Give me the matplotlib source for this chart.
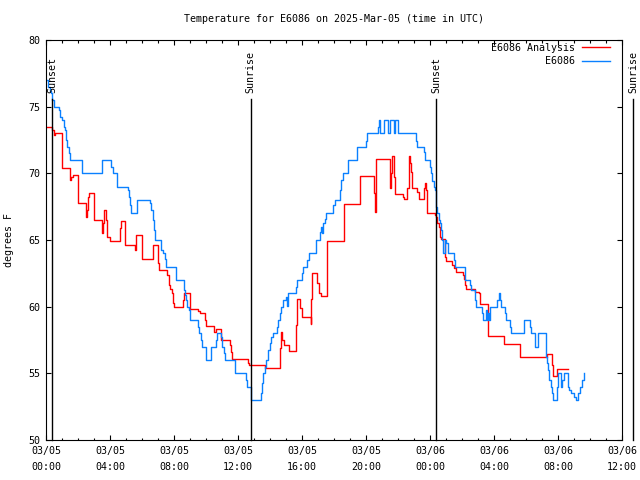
import matplotlib
matplotlib.use("Agg")
import matplotlib.pyplot as plt
from matplotlib.ticker import MultipleLocator

plt.rcParams['font.family'] = ['DejaVu Sans Mono']

# ---- data (hours since 2025-03-05 00:00 UTC, degrees F) ----
obs_hours = [0.0, 0.11, 0.23, 0.31, 0.39, 0.48, 0.81, 0.9, 1.0, 1.11, 1.17, 1.28, 1.31, 1.44, 1.53,
             2.25, 3.53, 4.09, 4.19, 4.44, 5.13, 5.19, 5.28, 5.34, 5.69, 6.53, 6.59, 6.69, 6.75, 6.84,
             7.21, 7.31, 7.42, 7.53, 8.11, 8.15, 8.63, 8.67, 8.78, 8.84, 8.94, 8.98, 9.5, 9.56, 9.71,
             9.78, 9.98, 10.03, 10.29, 10.61, 10.69, 10.96, 11.03, 11.11, 11.21, 11.84, 12.53, 12.56,
             12.79, 12.84, 13.42, 13.5, 13.56, 13.71, 13.78, 13.88, 13.98, 14.09, 14.19, 14.46, 14.5,
             14.61, 14.67, 14.81, 15.03, 15.09, 15.13, 15.61, 15.71, 16.0, 16.06, 16.34, 16.42, 16.86,
             17.11, 17.21, 17.28, 17.31, 17.42, 17.48, 17.95, 18.09, 18.36, 18.46, 18.56, 18.88, 19.46,
             20.03, 20.06, 20.75, 20.81, 20.88, 21.13, 21.38, 21.5, 21.75, 21.81, 22.0, 23.11, 23.19,
             23.63, 23.67, 23.98, 24.09, 24.15, 24.25, 24.29, 24.39, 24.4, 24.44, 24.56, 24.65, 24.71,
             24.78, 24.81, 24.96, 25.03, 25.13, 25.48, 25.54, 26.17, 26.21, 26.48, 26.59, 26.79, 26.84,
             26.9, 27.25, 27.31, 27.48, 27.56, 27.64, 27.7, 27.78, 28.21, 28.31, 28.38, 28.42, 28.67,
             28.78, 28.98, 29.04, 29.88, 30.23, 30.29, 30.54, 30.59, 30.75, 31.23, 31.28, 31.31, 31.38,
             31.42, 31.54, 31.65, 31.69, 31.94, 32.0, 32.19, 32.25, 32.36, 32.63, 32.69, 32.82, 32.98,
             33.15, 33.27, 33.39, 33.51, 33.63]
obs_temps = [77.0, 76.5, 76.2, 76.0, 75.5, 75.0, 74.75, 74.25, 74.0, 73.5, 73.25, 72.5, 72.0, 71.5, 71.0,
             70.0, 71.0, 70.5, 70.0, 69.0, 68.75, 68.25, 67.6, 67.0, 68.0, 67.75, 67.25, 66.5, 65.75, 65.0,
             64.25, 64.0, 63.6, 63.0, 62.5, 62.0, 61.25, 60.9, 60.5, 60.0, 59.75, 59.0, 58.5, 58.0, 57.5,
             57.0, 56.5, 56.0, 57.0, 57.5, 58.0, 57.75, 57.0, 56.5, 56.0, 55.0, 54.5, 54.0,
             53.5, 53.0, 53.5, 54.25, 55.0, 55.5, 56.0, 56.75, 57.25, 57.75, 58.0, 58.5, 59.0,
             59.5, 60.0, 60.5, 60.75, 60.05, 61.0, 61.5, 62.0, 62.5, 63.0, 63.5, 64.0, 65.0,
             65.6, 66.0, 65.5, 66.25, 66.6, 67.0, 67.6, 68.0, 68.75, 69.5, 70.0, 71.0, 72.0,
             72.4, 73.0, 73.5, 74.0, 73.0, 74.0, 73.0, 74.0, 73.0, 74.0, 73.0, 72.4, 72.0,
             71.6, 71.0, 70.5, 70.0, 69.4, 69.0, 68.75, 68.25, 67.5, 67.0, 66.5, 66.25, 65.75,
             65.0, 64.0, 65.0, 64.75, 64.0, 63.5, 63.0, 62.5, 62.0, 61.6, 61.25, 61.0, 60.5,
             60.0, 59.5, 59.0, 59.75, 59.0, 59.5, 59.0, 60.0, 60.5, 61.0, 60.5, 60.0, 59.5,
             59.0, 58.5, 58.0, 59.0, 58.5, 58.0, 57.5, 57.0, 58.0, 57.0, 56.25, 55.75, 55.25,
             54.5, 54.0, 53.5, 53.0, 54.0, 55.0, 54.0, 54.5, 55.0, 54.0, 53.75, 53.5, 53.25,
             53.0, 53.5, 54.0, 54.5, 55.0]

ana_hours = [0.0, 0.38, 0.48, 0.59, 1.0, 1.5, 1.56, 1.69, 1.98, 2.5, 2.56, 2.63, 2.7, 2.98, 3.5, 3.56,
             3.61, 3.75, 3.81, 4.03, 4.65, 4.71, 4.96, 5.54, 5.65, 6.0, 6.69, 7.0, 7.06, 7.59, 7.69,
             7.78, 7.88, 7.94, 8.0, 8.56, 8.63, 8.98, 9.48, 9.61, 9.96, 10.03, 10.5, 10.61, 10.96,
             11.48, 11.59, 11.65, 12.63, 12.69, 13.67, 14.65, 14.67, 14.75, 14.88, 15.17, 15.65,
             15.71, 15.86, 16.0, 16.54, 16.59, 16.65, 16.96, 17.04, 17.17, 17.56, 17.59, 18.61,
             18.63, 19.61, 19.65, 20.5, 20.54, 20.6, 21.48, 21.52, 21.57, 21.62, 21.75, 21.79,
             22.31, 22.36, 22.59, 22.67, 22.73, 22.8, 22.86, 23.21, 23.29, 23.63, 23.67, 23.77,
             23.81, 24.19, 24.29, 24.36, 24.44, 24.56, 24.65, 24.71, 24.96, 25.03, 25.4, 25.48,
             25.61, 26.06, 26.13, 26.21, 26.27, 26.84, 27.06, 27.15, 27.62, 27.65, 28.61, 29.61,
             29.65, 31.31, 31.65, 31.69, 31.94, 32.6]
ana_temps = [73.45, 73.25, 72.9, 73.0, 70.4, 69.5, 69.75, 69.9, 67.75, 66.75, 67.25, 68.25, 68.5, 66.5, 65.5, 66.25,
             67.25, 66.5, 65.25, 64.9, 65.9, 66.4, 64.6, 64.25, 65.4, 63.6, 64.6, 63.25, 62.75, 62.4, 61.6,
             61.3, 61.0, 60.25, 59.95, 60.5, 61.05, 59.8, 59.7, 59.55, 59.0, 58.55, 58.1, 58.3, 57.5,
             57.1, 56.6, 56.05, 55.75, 55.6, 55.4, 56.9, 58.1, 57.5, 57.1, 56.7, 58.6,
             60.55, 59.9, 59.2, 58.7, 60.55, 62.5, 61.75, 61.0, 60.8, 61.75, 64.9, 66.3,
             67.7, 68.8, 69.8, 68.5, 67.1, 71.05, 70.25, 68.9, 70.0, 71.3, 69.75, 68.45,
             68.25, 68.1, 68.9, 71.3, 70.75, 70.1, 68.9, 68.6, 68.1, 68.9, 69.25, 68.75,
             67.05, 67.0, 66.9, 66.75, 66.25, 66.0, 65.25, 65.05, 63.75, 63.4, 63.1, 62.9,
             62.6, 62.4, 62.1, 61.6, 61.3, 61.1, 61.05, 60.2, 59.1, 57.8, 57.2, 56.7,
             56.25, 56.45, 55.6, 54.8, 55.3, 55.3]

sun_hours = [0.375, 12.8, 24.39, 36.7]
sun_labels = ["Sunset", "Sunrise", "Sunset", "Sunrise"]

xtick_hours = [0, 4, 8, 12, 16, 20, 24, 28, 32, 36]
xtick_labels = ["03/05\n00:00", "03/05\n04:00", "03/05\n08:00", "03/05\n12:00", "03/05\n16:00",
                "03/05\n20:00", "03/06\n00:00", "03/06\n04:00", "03/06\n08:00", "03/06\n12:00"]

# ---- figure ----
W, H = 640, 480
fig = plt.figure(figsize=(6.4, 4.8), dpi=100)
ax = fig.add_axes([46 / W, 40 / H, 576 / W, 400 / H])

FS = 7.2
ax.plot(ana_hours, ana_temps, drawstyle='steps-post', color='#ff0000', lw=1.0, label='E6086 Analysis')
ax.plot(obs_hours, obs_temps, drawstyle='steps-post', color='#0a80ff', lw=1.0, label='E6086')

for h, lab in zip(sun_hours, sun_labels):
    ax.plot([h, h], [50, 75.6], color='black', lw=1.0, clip_on=False)
    ax.text(h, 76.05, lab, rotation=90, ha='center', va='bottom', fontsize=FS, clip_on=False)

ax.set_xlim(0, 36)
ax.set_ylim(50, 80)
ax.set_xticks(xtick_hours)
ax.set_xticklabels(xtick_labels, fontsize=FS)
for lbl in ax.get_xticklabels():
    lbl.set_linespacing(1.8)
ax.xaxis.set_minor_locator(MultipleLocator(1))
ax.yaxis.set_major_locator(MultipleLocator(5))
ax.tick_params(axis='both', which='major', direction='in', length=3.6, width=0.8,
               top=True, right=True, labelsize=FS, pad=4)
ax.tick_params(axis='x', which='minor', direction='in', length=1.8, width=0.8, top=True)
for sp in ax.spines.values():
    sp.set_linewidth(0.8)

ax.set_ylabel('degrees F', fontsize=FS)
ax.yaxis.set_label_coords(-0.0556, 0.5)
ax.set_title('Temperature for E6086 on 2025-Mar-05 (time in UTC)', fontsize=FS, pad=13)

leg = ax.legend(loc='upper right', bbox_to_anchor=((610 - 46) / 576, (440 - 43) / 400),
                frameon=False, markerfirst=False, fontsize=FS, borderaxespad=0, borderpad=0,
                handlelength=2.8, handletextpad=0.7, labelspacing=0.35)
for t in leg.get_texts():
    t.set_ha('right')

fig.savefig('out.png', dpi=100)
